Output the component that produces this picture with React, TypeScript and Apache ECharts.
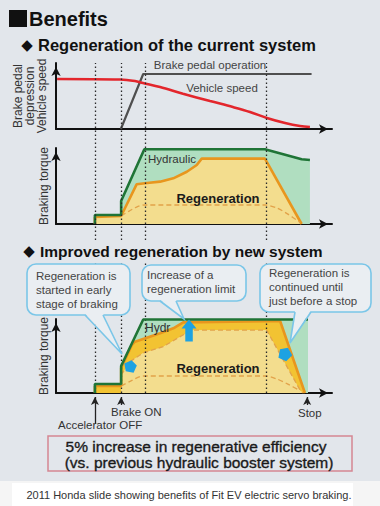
import React, { useEffect, useRef } from 'react';
import * as echarts from 'echarts';

const FONT = '"Liberation Sans", Arial, sans-serif';
const X_MAX = 100;

// event times (vertical dotted guides)
const guideT = [14.1, 23.6, 32.2, 76.1];
// event arrows under the lower chart
const markerT = [14.1, 23.6, 91];
const markerFrom = [0, 19, 19];
const markerTo = [27, 27, 27];

// top chart: brake pedal depression and vehicle speed
const pedalT = [23.5, 31.6, 92.6];
const pedalV = [0, 83.3, 83.3];
const speedT = [0.4, 23.2, 28.6, 31.5, 37.7, 46, 55.8, 64.1, 70.3, 76.4, 83, 88.4, 92];
const speedV = [75.8, 75, 72.7, 69.7, 63.6, 53.5, 42.4, 33.3, 25.8, 16.7, 9.1, 4.5, 3];

// middle chart: current system
const hydT = [14.1, 14.1, 23.6, 23.6, 32, 75.7, 89, 92];
const hydV = [0, 11.8, 11.8, 30.3, 98.3, 98.3, 85.1, 84.2];
const regenT = [14.1, 14.1, 23.6, 29.2, 33, 37.7, 42.5, 47.4, 51, 52.8, 75.7, 89];
const regenV = [0, 9.2, 10.5, 52.2, 54, 55.7, 60.1, 68.8, 77.6, 86, 86, 0];
const lowT = [23.6, 26.5, 29, 32, 75.7, 80, 84, 88.5];
const lowV = [10.5, 17, 22, 25, 25, 21, 13, 2];

// bottom chart: new system
const hyd2T = [14.1, 14.1, 23.6, 23.6, 31.6, 91.3];
const hyd2V = [0, 12.2, 12.2, 36.5, 99.3, 99.3];
const newRegenT = [14.1, 14.1, 23.6, 23.6, 27.5, 28.6, 32.9, 37.7, 42.5, 46.1, 81.2, 90.2];
const newRegenV = [0, 9.5, 9.5, 33.8, 64.9, 69.3, 74.7, 80.7, 87.4, 95.5, 97.3, 0];
const oldRegenT = [23.6, 26.8, 31.5, 38.8, 46, 49.6, 76.3, 88.4, 89.5];
const oldRegenV = [24.3, 42.3, 54.1, 62.6, 78.4, 85.1, 85.1, 4.1, 0];
const low2T = [23.6, 27, 31.6, 75.7, 80, 84, 88.5];
const low2V = [9.5, 16, 23, 23, 19, 12, 3];

// blue arrows
const arrowT = [26.8, 48.2, 83];
const arrowV = [35, 84.5, 51.4];

const zip = (t: number[], v: number[]) => t.map((x, i) => [x, v[i]]);

const axisLineVis = {
  show: true,
  onZero: false,
  symbol: ['none', 'arrow'],
  symbolSize: [7, 9],
  symbolOffset: [0, -4],
  lineStyle: { color: '#111', width: 2 },
};

const xVis = (gi: number) => ({
  type: 'value', gridIndex: gi, min: 0, max: X_MAX,
  axisLine: axisLineVis, axisTick: { show: false }, axisLabel: { show: false }, splitLine: { show: false },
});
const yVis = (gi: number, name: string, gap: number) => ({
  type: 'value', gridIndex: gi, min: 0, max: 100,
  name, nameLocation: 'middle', nameRotate: 90, nameGap: gap,
  nameTextStyle: { fontSize: 12, lineHeight: 11.7, color: '#333', fontFamily: FONT },
  axisLine: axisLineVis, axisTick: { show: false }, axisLabel: { show: false }, splitLine: { show: false },
});
const xHid = (gi: number) => ({ type: 'value', gridIndex: gi, min: 0, max: X_MAX, show: false });
const yHid = (gi: number, max: number) => ({ type: 'value', gridIndex: gi, min: 0, max, show: false });

const txt = (x: number, y: number, text: string, o: any = {}) => {
  const style: any = {
    text, fill: o.fill || '#333', fontSize: o.size || 11.5, fontWeight: o.weight || 'normal',
    fontFamily: o.family || FONT, align: o.align || 'left', verticalAlign: o.va || 'middle',
  };
  if (o.lh) style.lineHeight = o.lh;
  if (o.sw) { style.stroke = o.fill; style.lineWidth = o.sw; }
  return { type: 'text', x, y, z: 102, style };
};

const callout = (bx: number, by: number, bw: number, bh: number, tail: number[][], text: string, tx: number, ty: number) => {
  const fill = '#eaeef2';
  const stroke = '#7ac6e8';
  const bottom = by + bh;
  return [
    { type: 'rect', z: 100, shape: { x: bx, y: by, width: bw, height: bh, r: 9 }, style: { fill, stroke, lineWidth: 1.6 } },
    { type: 'polygon', z: 101, shape: { points: [[tail[0][0], bottom - 1.5], [tail[1][0], bottom - 1.5], tail[2]] }, style: { fill } },
    { type: 'polyline', z: 101, shape: { points: [[tail[0][0], bottom], tail[2], [tail[1][0], bottom]] }, style: { stroke, lineWidth: 1.6, fill: 'none' } },
    txt(tx, ty, text, { size: 11.5, fill: '#444', va: 'top', lh: 14 }),
  ];
};

const guideSeries = (gx: number) => ({
  type: 'line', xAxisIndex: gx, yAxisIndex: gx, data: [], z: 8, silent: true,
  markLine: {
    silent: true, symbol: ['none', 'none'], animation: false,
    label: { show: false },
    lineStyle: { color: '#2a2a2a', width: 1.3, type: [1.5, 2.5] },
    data: guideT.map((t) => ({ xAxis: t })),
  },
});

export default function App() {
  const ref = useRef<HTMLDivElement>(null);
  useEffect(() => {
    if (!ref.current) return;
    const chart = echarts.init(ref.current, null, { renderer: 'svg' });
    const GREEN = '#1f7436';
    const GREEN_FILL = '#b0dec0';
    const ORANGE = '#e8961e';
    const PALE = '#f3dd8e';
    const RICH = '#f2c332';
    const DASH = { color: '#e2a24a', width: 1.3, type: [5, 3] };

    const option: any = {
      animation: false,
      backgroundColor: '#e2e6eb',
      grid: [
        { left: 56, width: 276, top: 63, height: 66 },
        { left: 56, width: 276, top: 148, height: 76 },
        { left: 56, width: 276, top: 319, height: 74 },
        { left: 56, width: 276, top: 63, height: 177 },
        { left: 56, width: 276, top: 262, height: 131 },
        { left: 56, width: 276, top: 396, height: 28 },
      ],
      xAxis: [xVis(0), xVis(1), xVis(2), xHid(3), xHid(4), xHid(5)],
      yAxis: [
        yVis(0, 'Brake pedal\ndepression\nVehicle speed', 8.5),
        yVis(1, 'Braking torque', 6),
        yVis(2, 'Braking torque', 6),
        yHid(3, 1), yHid(4, 1), yHid(5, 28),
      ],
      series: [
        // top chart
        { type: 'line', xAxisIndex: 0, yAxisIndex: 0, data: zip(pedalT, pedalV), symbol: 'none', z: 3,
          lineStyle: { color: '#4f4f4f', width: 2.2 } },
        { type: 'line', xAxisIndex: 0, yAxisIndex: 0, data: zip(speedT, speedV), symbol: 'none', smooth: 0.35, z: 4,
          lineStyle: { color: '#e3262c', width: 2.6 } },
        // middle chart
        { type: 'line', xAxisIndex: 1, yAxisIndex: 1, data: [...zip(hydT, hydV), [hydT[hydT.length - 1], 0]], symbol: 'none', z: 1,
          lineStyle: { width: 0 }, areaStyle: { color: GREEN_FILL, opacity: 1 } },
        { type: 'line', xAxisIndex: 1, yAxisIndex: 1, data: zip(regenT, regenV), symbol: 'none', z: 2,
          lineStyle: { color: ORANGE, width: 2.6 }, areaStyle: { color: PALE, opacity: 1 } },
        { type: 'line', xAxisIndex: 1, yAxisIndex: 1, data: zip(lowT, lowV), symbol: 'none', smooth: 0.3, z: 3,
          lineStyle: DASH },
        { type: 'line', xAxisIndex: 1, yAxisIndex: 1, data: zip(hydT, hydV), symbol: 'none', z: 4,
          lineStyle: { color: GREEN, width: 2.6 } },
        // bottom chart
        { type: 'line', xAxisIndex: 2, yAxisIndex: 2, data: [...zip(hyd2T, hyd2V), [hyd2T[hyd2T.length - 1], 0]], symbol: 'none', z: 1,
          lineStyle: { width: 0 }, areaStyle: { color: GREEN_FILL, opacity: 1 } },
        { type: 'line', xAxisIndex: 2, yAxisIndex: 2, data: zip(newRegenT, newRegenV), symbol: 'none', z: 2,
          lineStyle: { width: 0 }, areaStyle: { color: RICH, opacity: 1 } },
        { type: 'line', xAxisIndex: 2, yAxisIndex: 2, data: [[oldRegenT[0], 0], ...zip(oldRegenT, oldRegenV)], symbol: 'none', z: 3,
          lineStyle: { width: 0 }, areaStyle: { color: PALE, opacity: 1 } },
        { type: 'line', xAxisIndex: 2, yAxisIndex: 2, data: zip(oldRegenT, oldRegenV), symbol: 'none', z: 4,
          lineStyle: DASH },
        { type: 'line', xAxisIndex: 2, yAxisIndex: 2, data: zip(low2T, low2V), symbol: 'none', smooth: 0.3, z: 4,
          lineStyle: DASH },
        { type: 'line', xAxisIndex: 2, yAxisIndex: 2, data: zip(newRegenT, newRegenV), symbol: 'none', z: 5,
          lineStyle: { color: ORANGE, width: 2.6 } },
        { type: 'line', xAxisIndex: 2, yAxisIndex: 2, data: zip(hyd2T, hyd2V), symbol: 'none', z: 6,
          lineStyle: { color: GREEN, width: 2.6 } },
        { type: 'scatter', xAxisIndex: 2, yAxisIndex: 2, z: 7, itemStyle: { color: '#1ea2e2', opacity: 1 },
          data: [
            { value: [arrowT[0], arrowV[0]], symbol: 'path://M7,0 L14,5 L11,13 L3,13 L0,5 Z', symbolSize: [13, 12], symbolRotate: 135 },
            { value: [arrowT[1], arrowV[1]], symbol: 'path://M8,0 L16,9 L12,9 L12,22 L4,22 L4,9 L0,9 Z', symbolSize: [15, 22] },
            { value: [arrowT[2], arrowV[2]], symbol: 'path://M7,0 L14,5 L11,13 L3,13 L0,5 Z', symbolSize: [14, 13], symbolRotate: 190 },
          ] },
        // guides
        guideSeries(3),
        guideSeries(4),
        { type: 'line', xAxisIndex: 5, yAxisIndex: 5, data: [], z: 8, silent: true,
          markLine: {
            silent: true, symbol: ['none', 'arrow'], symbolSize: [6, 8],
            label: { show: false },
            lineStyle: { color: '#222', width: 1.3, type: 'solid' },
            data: markerT.map((t, i) => [{ coord: [t, markerFrom[i]] }, { coord: [t, markerTo[i]] }]),
          } },
      ],
      graphic: [
        // titles
        { type: 'rect', z: 100, shape: { x: 9, y: 10, width: 18, height: 17 }, style: { fill: '#111' } },
        txt(29, 19, 'Benefits', { size: 20, weight: 'bold', fill: '#111' }),
        txt(27, 44.5, '◆', { size: 15, fill: '#111', family: '"DejaVu Sans", sans-serif', align: 'center' }),
        txt(38, 45, 'Regeneration of the current system', { size: 16.5, weight: 'bold', fill: '#111' }),
        txt(29, 251, '◆', { size: 15, fill: '#111', family: '"DejaVu Sans", sans-serif', align: 'center' }),
        txt(40, 251.5, 'Improved regeneration by new system', { size: 15.5, weight: 'bold', fill: '#111' }),
        // chart labels
        txt(210, 65, 'Brake pedal operation', { fill: '#444', align: 'center' }),
        txt(222, 88, 'Vehicle speed', { fill: '#444', align: 'center' }),
        txt(148, 159, 'Hydraulic', { fill: '#333' }),
        txt(218, 198, 'Regeneration', { size: 13, weight: 'bold', fill: '#1a1a1a', align: 'center' }),
        txt(145, 328, 'Hydr', { size: 12, fill: '#333' }),
        txt(218, 368, 'Regeneration', { size: 13, weight: 'bold', fill: '#1a1a1a', align: 'center' }),
        txt(111, 412, 'Brake ON', { fill: '#333' }),
        txt(58, 425, 'Accelerator OFF', { fill: '#333' }),
        txt(298, 413, 'Stop', { fill: '#333' }),
        // callouts
        ...callout(27, 264, 103, 51, [[85, 0], [103, 0], [122, 354]], 'Regeneration is\nstarted in early\nstage of braking', 36, 269),
        ...callout(142, 265, 104, 36, [[160, 0], [176, 0], [184, 319]], 'Increase of a\nregeneration limit', 147, 268),
        ...callout(260, 264, 111, 48, [[295, 0], [311, 0], [290, 343]], 'Regeneration is\ncontinued until\njust before a stop', 269, 266),
        // summary box
        { type: 'rect', z: 100, shape: { x: 48, y: 436, width: 304, height: 35 }, style: { fill: 'none', stroke: '#d58693', lineWidth: 1.5 } },
        txt(196, 446.5, '5% increase in regenerative efficiency', { size: 15.5, fill: '#1a1a1a', align: 'center', sw: 0.35 }),
        txt(199, 462.5, '(vs. previous hydraulic booster system)', { size: 15.5, fill: '#1a1a1a', align: 'center', sw: 0.35 }),
        // caption band
        { type: 'rect', z: 100, shape: { x: 0, y: 481, width: 380, height: 25 }, style: { fill: '#f5f5f5' } },
        { type: 'rect', z: 100, shape: { x: 12, y: 483, width: 341, height: 23 }, style: { fill: '#ffffff' } },
        txt(189, 494.5, '2011 Honda slide showing benefits of Fit EV electric servo braking.', { size: 11, fill: '#333', align: 'center' }),
      ],
    };
    chart.setOption(option);
    return () => chart.dispose();
  }, []);
  return <div ref={ref} style={{ position: 'fixed', left: 0, top: 0, width: 380, height: 506, background: '#e2e6eb' }} />;
}
